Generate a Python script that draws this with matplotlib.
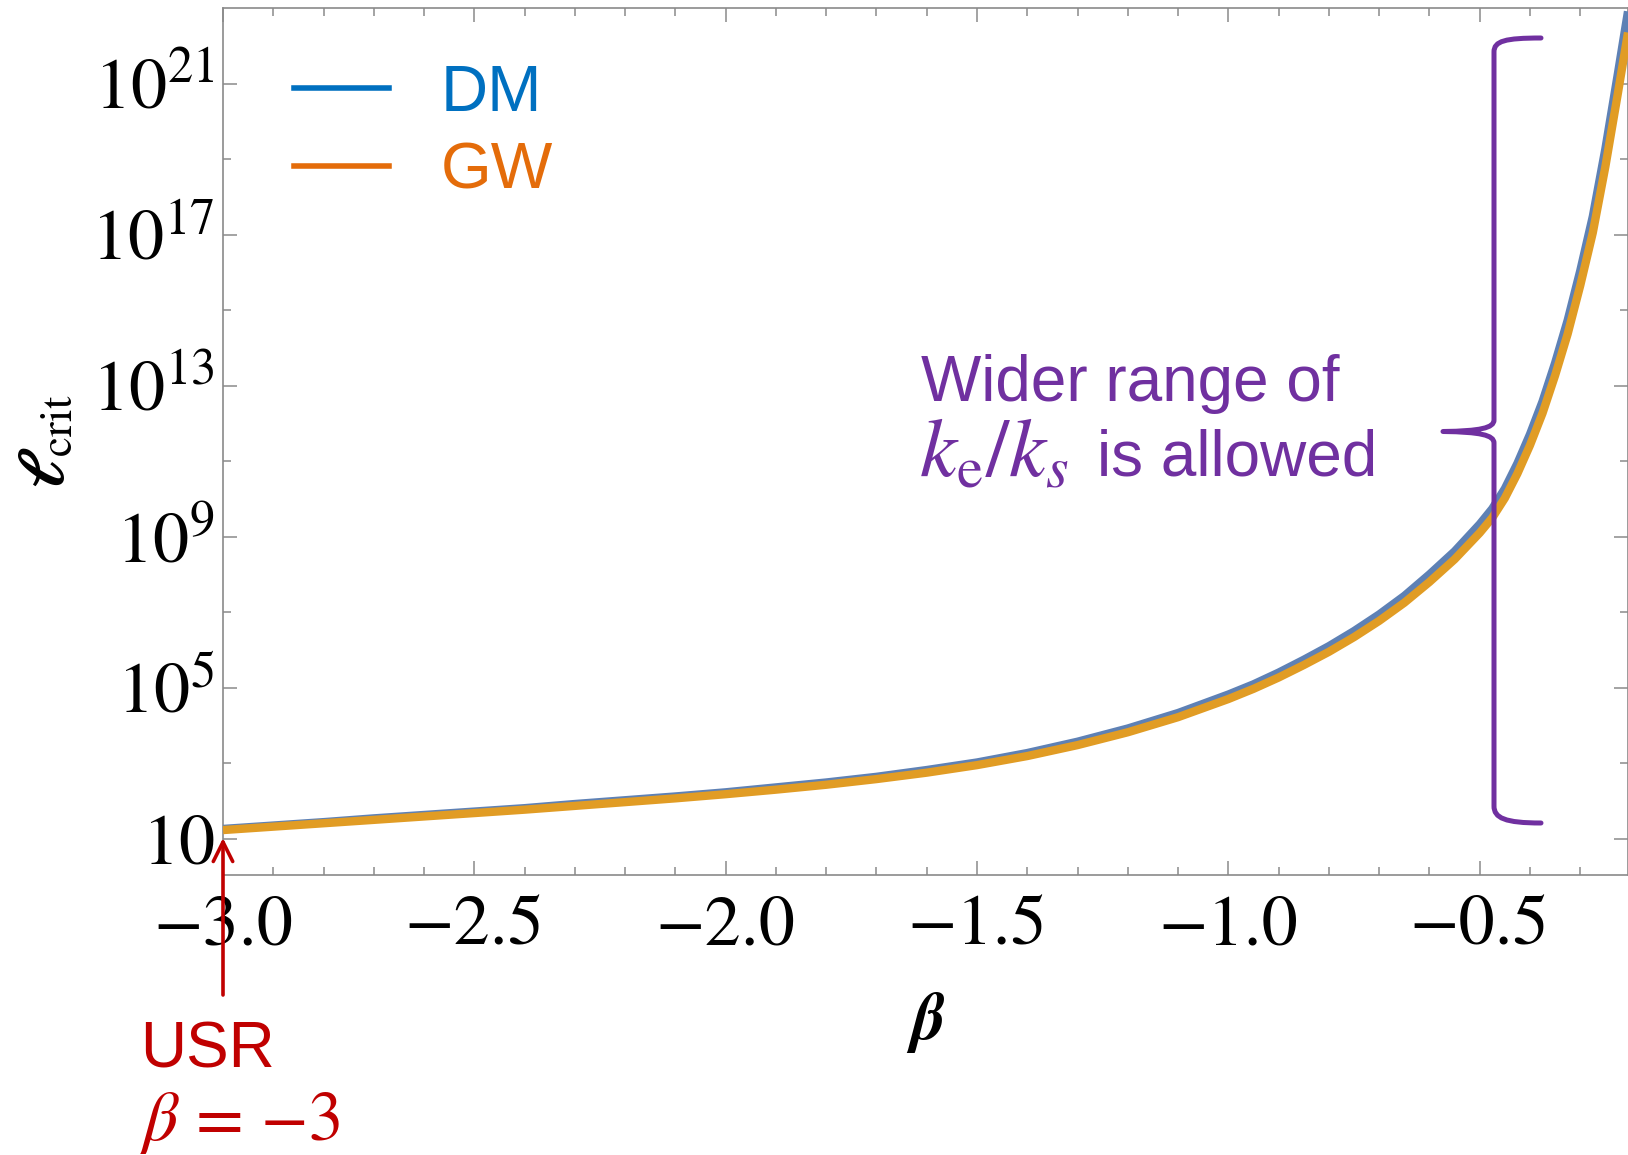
import matplotlib
matplotlib.use("Agg")
import matplotlib.pyplot as plt
from matplotlib.lines import Line2D
from matplotlib.patches import FancyArrowPatch, PathPatch
from matplotlib.path import Path
from matplotlib.ticker import FixedLocator, FixedFormatter

# ---------------- data ----------------
beta = [-3.00, -2.90, -2.80, -2.70, -2.60, -2.50, -2.40, -2.30, -2.20, -2.10,
        -2.00, -1.90, -1.80, -1.70, -1.60, -1.50, -1.40, -1.30, -1.20, -1.10,
        -1.00, -0.95, -0.90, -0.85, -0.80, -0.75, -0.70, -0.65, -0.60, -0.55,
        -0.50, -0.475, -0.45, -0.425, -0.40, -0.375, -0.35, -0.325, -0.30,
        -0.275, -0.25, -0.225, -0.205]
# log10 of the critical multipole for gravitational waves
log_ell_gw = [1.23, 1.32, 1.41, 1.50, 1.59, 1.68, 1.77, 1.87, 1.97, 2.07,
              2.18, 2.30, 2.43, 2.58, 2.75, 2.95, 3.19, 3.48, 3.82, 4.22,
              4.70, 4.97, 5.27, 5.60, 5.95, 6.34, 6.77, 7.25, 7.80, 8.40,
              9.10, 9.50, 10.02, 10.67, 11.42, 12.27, 13.27, 14.37, 15.65,
              17.05, 18.80, 20.75, 22.35]
# log10 of the critical multipole for dark matter
log_ell_dm = [1.26, 1.35, 1.44, 1.54, 1.63, 1.72, 1.81, 1.92, 2.02, 2.12,
              2.23, 2.36, 2.49, 2.64, 2.82, 3.02, 3.27, 3.57, 3.92, 4.33,
              4.82, 5.09, 5.40, 5.74, 6.10, 6.50, 6.94, 7.43, 8.00, 8.61,
              9.33, 9.74, 10.27, 10.94, 11.71, 12.58, 13.60, 14.73, 16.04,
              17.48, 19.27, 21.27, 22.91]

xtick_major = [-3.0, -2.5, -2.0, -1.5, -1.0, -0.5]
xtick_labels = ["\u22123.0", "\u22122.5", "\u22122.0", "\u22121.5", "\u22121.0", "\u22120.5"]
xtick_minor = [-2.9, -2.8, -2.7, -2.6, -2.4, -2.3, -2.2, -2.1, -1.9, -1.8, -1.7,
               -1.6, -1.4, -1.3, -1.2, -1.1, -0.9, -0.8, -0.7, -0.6, -0.4, -0.3]
ytick_exponents = [1, 5, 9, 13, 17, 21]
ytick_labels = [r"$10$", r"$10^{5}$", r"$10^{9}$", r"$10^{13}$", r"$10^{17}$", r"$10^{21}$"]
ytick_minor_exponents = [3, 7, 11, 15, 19]

series_names = ["DM", "GW"]

# ---------------- style ----------------
W, H = 1628, 1155
DPI = 100
C_DM_LINE = "#5E81B5"
C_GW_LINE = "#E19C24"
C_DM_TEXT = "#0070C0"
C_GW_TEXT = "#E46C0A"
C_PURPLE = "#7030A0"
C_RED = "#C00000"
C_FRAME = "#8a8a8a"

plt.rcParams["mathtext.fontset"] = "stix"
plt.rcParams["font.family"] = ["STIXGeneral", "DejaVu Sans"]

fig = plt.figure(figsize=(W / DPI, H / DPI), dpi=DPI)


def fx(x):
    return x / W


def fy(y):
    return 1 - y / H


ax_left, ax_right, ax_top, ax_bottom = 223, 1628, 8, 875
ax = fig.add_axes([fx(ax_left), fy(ax_bottom), (ax_right - ax_left) / W,
                   (ax_bottom - ax_top) / H])

ell_dm = [10 ** v for v in log_ell_dm]
ell_gw = [10 ** v for v in log_ell_gw]
ax.plot(beta, ell_dm, color=C_DM_LINE, lw=6.0, solid_capstyle="butt",
        solid_joinstyle="round", zorder=3)
ax.plot(beta, ell_gw, color=C_GW_LINE, lw=6.0, solid_capstyle="butt",
        solid_joinstyle="round", zorder=4)

ax.set_yscale("log")
ax.set_xlim(-3.0, -0.205)
ax.set_ylim(10 ** 0.04, 1e23)

ax.xaxis.set_major_locator(FixedLocator(xtick_major))
ax.xaxis.set_major_formatter(FixedFormatter(xtick_labels))
ax.xaxis.set_minor_locator(FixedLocator(xtick_minor))
ax.yaxis.set_major_locator(FixedLocator([10.0 ** e for e in ytick_exponents]))
ax.yaxis.set_major_formatter(FixedFormatter(ytick_labels))
ax.yaxis.set_minor_locator(FixedLocator([10.0 ** e for e in ytick_minor_exponents]))
ax.yaxis.set_minor_formatter(FixedFormatter([""] * len(ytick_minor_exponents)))

for sp in ax.spines.values():
    sp.set_color(C_FRAME)
    sp.set_linewidth(1.2)
ax.tick_params(which="both", direction="in", top=True, right=True,
               color=C_FRAME, width=1.1)
ax.tick_params(which="major", length=10)
ax.tick_params(which="minor", length=5.5)
ax.tick_params(axis="x", which="major", labelsize=52, pad=15)
ax.tick_params(axis="y", which="major", labelsize=52, pad=6)

ax.set_xlabel(r"$\boldsymbol{\beta}$", fontsize=48)
ax.xaxis.set_label_coords(0.5, (ax_bottom - 990) / (ax_bottom - ax_top))
ax.set_ylabel(r"$\boldsymbol{\ell}_{\mathrm{crit}}$", fontsize=46)
ax.yaxis.set_label_coords((78 - ax_left) / (ax_right - ax_left), 0.5)

# legend drawn by hand
for name, yline, ybase, col in [(series_names[0], 88, 111, C_DM_TEXT),
                                (series_names[1], 166, 189, C_GW_TEXT)]:
    fig.add_artist(Line2D([fx(294), fx(389)], [fy(yline), fy(yline)],
                          transform=fig.transFigure, color=col, lw=4))
    fig.text(fx(441), fy(ybase), name, color=col, fontsize=47,
             family="Liberation Sans", ha="left", va="baseline")

# annotation text
fig.text(fx(921), fy(401), "Wider range of", color=C_PURPLE, fontsize=46,
         family="Liberation Sans", ha="left", va="baseline")
fig.text(fx(919), fy(476), r"$k_{\mathrm{e}}/k_{s}$", color=C_PURPLE,
         fontsize=60, ha="left", va="baseline")
fig.text(fx(1097), fy(476), "is allowed", color=C_PURPLE,
         fontsize=46, family="Liberation Sans", ha="left", va="baseline")

# curly brace
verts = [
    (1541, 38), (1505, 38), (1494, 41), (1494, 52),
    (1494, 420),
    (1494, 428), (1480, 431), (1443, 431.5),
    (1480, 432), (1494, 435), (1494, 443),
    (1494, 806),
    (1494, 818), (1505, 823), (1541, 823),
]
codes = [Path.MOVETO, Path.CURVE4, Path.CURVE4, Path.CURVE4,
         Path.LINETO,
         Path.CURVE4, Path.CURVE4, Path.CURVE4,
         Path.CURVE4, Path.CURVE4, Path.CURVE4,
         Path.LINETO,
         Path.CURVE4, Path.CURVE4, Path.CURVE4]
brace = Path([(fx(x), fy(y)) for x, y in verts], codes)
fig.add_artist(PathPatch(brace, transform=fig.transFigure, fill=False,
                         edgecolor=C_PURPLE, lw=3.6, capstyle="round",
                         joinstyle="round"))

# USR arrow and label
fig.add_artist(FancyArrowPatch((fx(223), fy(995)), (fx(223), fy(838)),
                               transform=fig.transFigure,
                               arrowstyle="->,head_length=0.7,head_width=0.35",
                               mutation_scale=20, color=C_RED, lw=2.6,
                               shrinkA=0, shrinkB=0))
fig.text(fx(140), fy(1067), "USR", color=C_RED, fontsize=46,
         family="Liberation Sans", ha="left", va="baseline")
fig.text(fx(140), fy(1140), r"$\beta$", color=C_RED, fontsize=50,
         ha="left", va="baseline")
fig.text(fx(196), fy(1140), "= \u22123", color=C_RED, fontsize=50,
         family="STIXGeneral", ha="left", va="baseline")

fig.savefig("out.png", dpi=DPI)
